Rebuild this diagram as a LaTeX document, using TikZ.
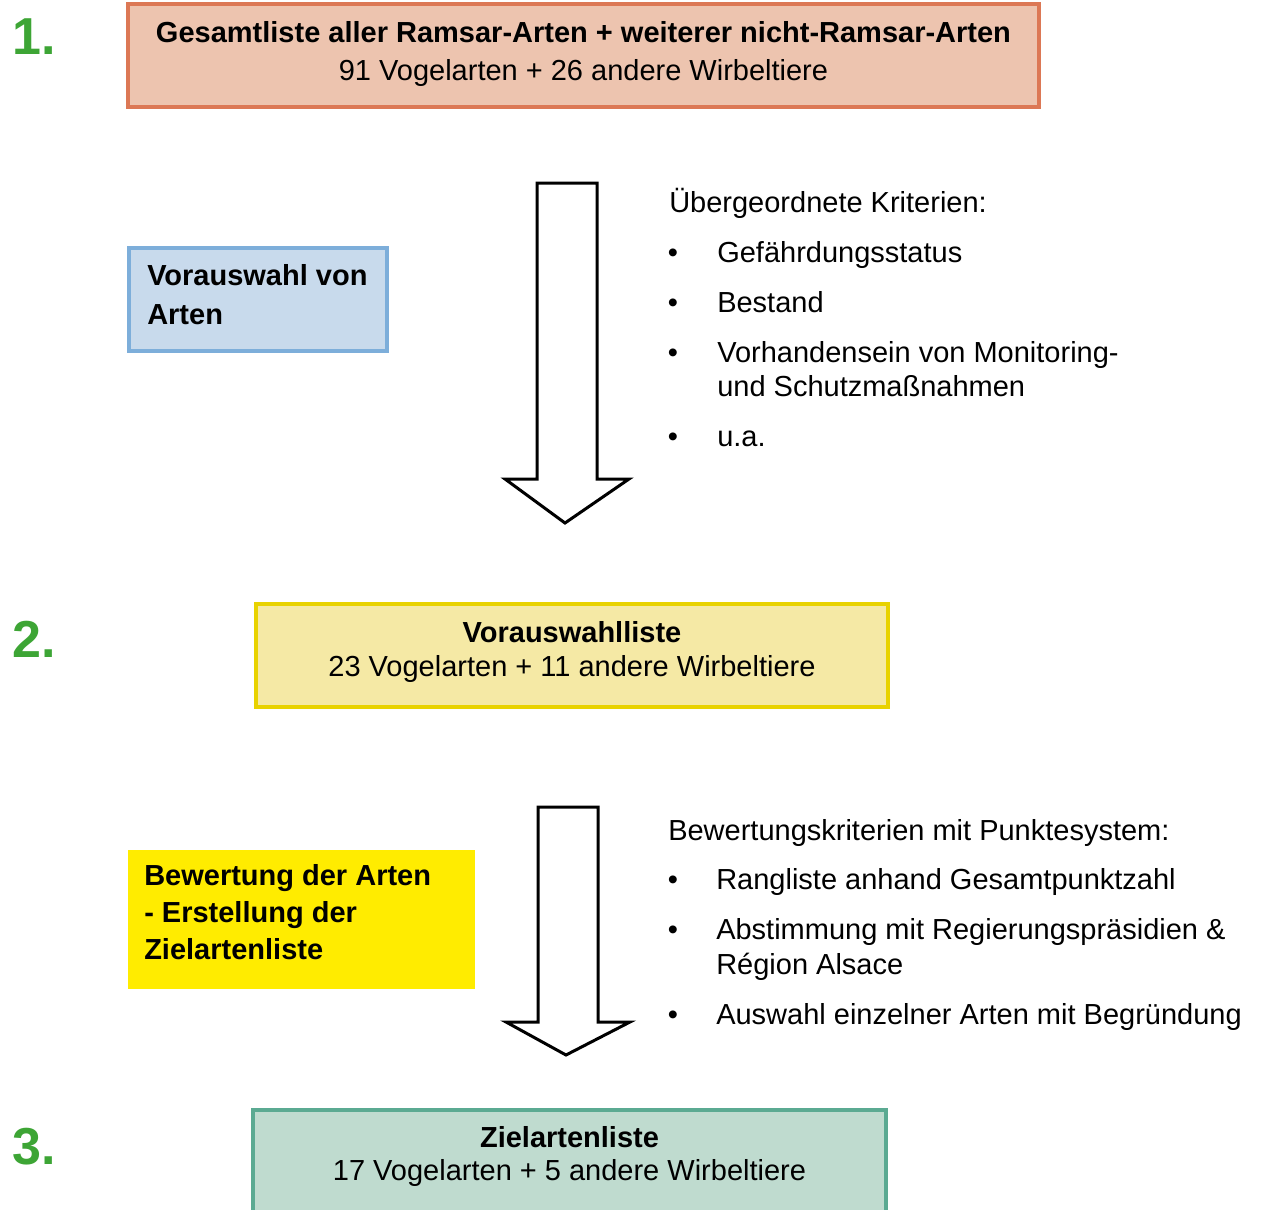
\documentclass[tikz,border=0pt]{standalone}
\usepackage{fontspec}
\setmainfont{Liberation Sans}
\usepackage{tikz}

\definecolor{numgreen}{RGB}{61,165,53}
\definecolor{gesamtfill}{RGB}{237,196,175}
\definecolor{gesamtline}{RGB}{220,120,85}
\definecolor{vorfill}{RGB}{200,218,236}
\definecolor{vorline}{RGB}{125,174,218}
\definecolor{listfill}{RGB}{245,233,165}
\definecolor{listline}{RGB}{232,210,0}
\definecolor{bewfill}{RGB}{255,236,0}
\definecolor{zielfill}{RGB}{191,219,207}
\definecolor{zielline}{RGB}{91,170,146}

\tikzset{
  txt/.style={anchor=base west,inner sep=0pt,font=\fontsize{21.75}{26}\selectfont},
  ctxt/.style={txt,anchor=base},
  btxt/.style={txt,font=\fontsize{21.75}{26}\selectfont\bfseries},
  cbtxt/.style={btxt,anchor=base},
  num/.style={anchor=base west,inner sep=0pt,text=numgreen,font=\fontsize{39}{39}\selectfont\bfseries},
  listbox/.style={draw,line width=3pt,inner sep=0pt,minimum height=77.25pt},
  blockarrow/.style={draw=black,fill=white,line width=2.25pt,line join=miter}
}

\begin{document}
\begin{tikzpicture}[x=0.75pt,y=0.75pt,yscale=-1,xscale=1]
\useasboundingbox (0,0) rectangle (1261,1210);

%Boxes
\node (gesamt) [listbox,draw=gesamtline,fill=gesamtfill,minimum width=683.25pt] at (583.5,55.5) {};
\node (vorauswahl) [listbox,draw=vorline,fill=vorfill,minimum width=193.5pt] at (258,299.5) {};
\node (vorliste) [listbox,draw=listline,fill=listfill,minimum width=474pt] at (572,655.5) {};
\node (bewertung) [inner sep=0pt,fill=bewfill,minimum width=260.25pt,minimum height=104.25pt] at (301.5,919.5) {};
\node (ziel) [listbox,draw=zielline,fill=zielfill,minimum width=474.75pt] at (569.5,1161.5) {};

%Block arrows
\draw [blockarrow] (537,183) -- (597,183) -- (597,479) -- (629,479) -- (565,523) -- (505,479) -- (537,479) -- cycle;
\draw [blockarrow] (538,807) -- (598,807) -- (598,1022) -- (630,1022) -- (566,1055) -- (506,1022) -- (538,1022) -- cycle;

% Step numbers
\node (n1) [num] at (12,55) {1.};
\node (n2) [num] at (12,657) {2.};
\node (n3) [num] at (12,1164) {3.};

% Text Node
\node (gesamt-a) [cbtxt] at (583.5,42) {Gesamtliste aller Ramsar-Arten + weiterer nicht-Ramsar-Arten};
\node (gesamt-b) [ctxt] at (583.5,80) {91 Vogelarten + 26 andere Wirbeltiere};
% Text Node
\node (vor-a) [btxt] at (147,285) {Vorauswahl von};
\node (vor-b) [btxt] at (147,324) {Arten};
% Text Node
\node (liste-a) [cbtxt] at (572,642) {Vorauswahlliste};
\node (liste-b) [ctxt] at (572,676) {23 Vogelarten + 11 andere Wirbeltiere};
% Text Node
\node (bew-a) [btxt] at (144,885) {Bewertung der Arten};
\node (bew-b) [btxt] at (144,922) {- Erstellung der};
\node (bew-c) [btxt] at (144,959) {Zielartenliste};
% Text Node
\node (ziel-a) [cbtxt] at (569.5,1147) {Zielartenliste};
\node (ziel-b) [ctxt] at (569.5,1180) {17 Vogelarten + 5 andere Wirbeltiere};

% Criteria, first step
\node (krit) [txt] at (669,212) {Übergeordnete Kriterien:};
\foreach \y/\name/\item in {262/k1/Gefährdungsstatus,312/k2/Bestand,362/k3/Vorhandensein von Monitoring-,446/k4/u.a.}{
  \node (b\name) [ctxt] at (673,\y) {•};
  \node (\name) [txt] at (717,\y) {\item};
}
\node (k3b) [txt] at (717,396) {und Schutzmaßnahmen};

% Criteria, second step
\node (bkrit) [txt] at (668,840) {Bewertungskriterien mit Punktesystem:};
\foreach \y/\name/\item in {889/p1/Rangliste anhand Gesamtpunktzahl,939/p2/Abstimmung mit Regierungspräsidien \&,1024/p3/Auswahl einzelner Arten mit Begründung}{
  \node (b\name) [ctxt] at (673,\y) {•};
  \node (\name) [txt] at (716,\y) {\item};
}
\node (p2b) [txt] at (716,974) {Région Alsace};

\end{tikzpicture}
\end{document}
